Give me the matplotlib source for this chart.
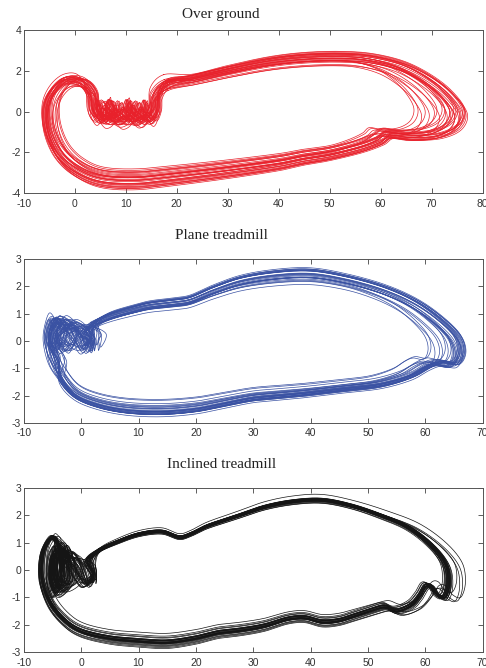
import numpy as np
import matplotlib
matplotlib.use("Agg")
import matplotlib.pyplot as plt

plt.rcParams["axes.unicode_minus"] = False

# ---------------------------------------------------------------------------
# Base loops (control points), clockwise phase portraits
# ---------------------------------------------------------------------------
OVER_GROUND = [
    (18, 1.3), (23, 1.6), (30, 2.0), (38, 2.4), (45, 2.6), (52, 2.65),
    (58, 2.55), (64, 2.2), (69, 1.6), (73, 0.85), (75.5, 0.0), (74.5, -0.7),
    (71, -1.1), (66, -1.2), (62, -1.1), (60, -1.4), (56, -1.75), (50, -2.1),
    (45, -2.3), (40, -2.55), (30, -2.9), (20, -3.2), (12, -3.4), (5, -3.3),
    (0, -2.8), (-3.5, -2.0), (-5.5, -0.9), (-5.8, 0.2), (-4.5, 1.0),
    (-2, 1.5), (1, 1.4), (3, 0.8), (3.5, 0.0), (5, -0.35), (6.5, 0.0),
    (5.5, 0.35), (5, 0.0), (7, -0.4), (9, -0.2), (9, 0.3), (8.5, 0.0),
    (10.5, -0.4), (12.5, -0.2), (12.5, 0.3), (12, 0.0), (14, -0.4),
    (15.5, 0.0), (15.8, 0.7),
]
PLANE = [
    (2, 0.6), (5, 0.9), (9, 1.15), (12, 1.3), (16, 1.4), (19, 1.5),
    (23, 1.85), (28, 2.2), (34, 2.4), (40, 2.45), (46, 2.25), (52, 1.9),
    (57, 1.45), (61, 0.9), (64.5, 0.2), (65.5, -0.4), (64.5, -0.85),
    (62, -0.8), (60, -0.95), (57, -1.3), (52, -1.6), (46, -1.75), (40, -1.9),
    (35, -2.0), (30, -2.1), (25, -2.3), (20, -2.5), (14, -2.6), (8, -2.55),
    (3, -2.35), (-1, -2.0), (-3.5, -1.4), (-5, -0.7), (-6, 0.0),
    (-5.5, 0.6), (-4.5, 0.8), (-3, 0.3), (-4, -0.3), (-5, 0.1),
    (-3.5, 0.6), (-1, 0.3), (0.5, -0.3), (1.5, 0.0), (0.5, 0.2),
]
INCLINED = [
    (3, 0.7), (6, 1.0), (10, 1.3), (14, 1.4), (17, 1.2), (19, 1.3),
    (22, 1.6), (27, 1.95), (32, 2.3), (37, 2.5), (42, 2.55), (47, 2.35),
    (52, 2.0), (57, 1.55), (61, 0.9), (63.5, 0.2), (64, -0.5), (63.3, -1.0),
    (62, -0.9), (61, -0.6), (60, -0.6), (59, -0.95), (57.5, -1.3),
    (55, -1.5), (53, -1.35), (51, -1.45), (48, -1.65), (45, -1.85),
    (42, -1.9), (39, -1.75), (36, -1.8), (32, -2.05), (28, -2.2),
    (24, -2.3), (20, -2.5), (15, -2.65), (10, -2.6), (5, -2.5), (0, -2.25),
    (-3, -1.85), (-5.5, -1.2), (-7, -0.3), (-6.8, 0.6), (-5.5, 1.15),
    (-4.5, 1.1), (-3.5, 0.5), (-3.2, -0.4), (-4.5, -0.85), (-5.5, -0.4),
    (-5.3, 0.4), (-4, 0.8), (-3.3, 0.0), (-4, -0.6), (-5, -0.2),
    (-4.5, 0.5), (-3, 0.5), (-1.5, 0.2), (0.5, -0.5), (2, -0.2), (1, 0.3),
]

# per-cycle variation: right-end stretch, left-end shift, y scale, y offset,
# knot shift, knot amplitude
EXT1 = [0.5, -1, -2, 1.5, -3, 0, -0.5, -4, -1.5, 1, -2.5, -9, -6, 0.8, -1,
        -3.5, 0.2, -2, -7.5, -0.8, 1.2, -5, -1.2, 0, -2.8, 0.6, -8.2, -1.8,
        1.0, -4.5, -0.3, -6.8]
LEXT1 = [0, 0.5, -0.5, 0.3, 1.0, -0.3, 0.8, 1.5, 0.2, -0.6, 0.6, 2.8, 2.0,
         0.1, 0.4, 1.2, -0.2, 0.7, 2.4, 0.3, -0.4, 1.6, 0.5, 0, 0.9, -0.5,
         2.6, 0.6, -0.2, 1.4, 0.2, 2.2]
YS1 = [1.04, 1.0, 0.97, 1.1, 0.95, 1.03, 1.02, 0.93, 0.99, 1.07, 0.96, 0.88,
       0.9, 1.06, 1.01, 0.94, 1.05, 0.98, 0.9, 1.0, 1.09, 0.92, 1.0, 1.04,
       0.96, 1.08, 0.89, 0.98, 1.1, 0.92, 1.02, 0.9]
YO1 = [0.1, -0.15, 0.05, -0.1, 0.2, -0.05, 0.15, -0.2, 0.0, 0.12, -0.12,
       0.18, -0.08, 0.08, -0.18, 0.22, -0.02, 0.1, -0.14, 0.16, -0.06, 0.04,
       0.2, -0.16, 0.06, -0.1, 0.14, -0.04, 0.02, 0.18, -0.2, 0.08]
KS1 = [0, 1, -1, 2, -1.5, 0.5, 1.5, -0.5, 2.5, -2, 0.8, 1.2, -0.8, 1.8, -1.2,
       0.3, 2.2, -0.3, 1.0, -1.8, 0.6, 1.4, -0.6, 0.2, 2.8, -1.4, 0.4, 1.6,
       -0.9, 2.0, -0.2, 1.1]
KA1 = [1.0, 1.3, 0.8, 1.6, 1.1, 0.9, 1.4, 1.2, 0.7, 1.8, 1.0, 1.5, 0.9, 1.2,
       1.7, 0.8, 1.1, 1.4, 1.0, 1.3, 0.9, 2.0, 1.1, 0.8, 1.5, 1.2, 1.0, 1.6,
       0.9, 1.3, 1.1, 1.9]

EXT2 = [0.5, 1.2, -0.5, 1.5, 0, -1, 0.8, -2, 1.0, -5, 0.3, -0.8, 1.4, -3,
        0.6, -0.3, 1.1, -4.5, 0.2, -1.5, 0.9, -0.2, 1.3, 0.4, -2.5, 0.7,
        -0.6, 1.6, -3.8, 0.1]
LEXT2 = [0, -0.3, 0.4, -0.5, 0.2, 0.6, -0.2, 0.8, -0.4, 1.5, 0.1, 0.5, -0.6,
         1.0, 0.0, 0.3, -0.1, 1.3, 0.2, 0.7, -0.3, 0.4, -0.5, 0.1, 0.9, -0.2,
         0.3, -0.4, 1.2, 0.0]
YS2 = [1.0, 1.03, 0.98, 1.05, 0.99, 0.96, 1.02, 0.93, 1.03, 0.86, 1.0, 0.97,
       1.05, 0.9, 1.01, 0.98, 1.04, 0.87, 1.0, 0.95, 1.02, 0.99, 1.04, 1.0,
       0.92, 1.02, 0.97, 1.05, 0.88, 1.0]
YO2 = [0.0, 0.1, -0.08, 0.05, -0.12, 0.08, -0.04, 0.12, -0.1, 0.06, 0.02,
       -0.06, 0.1, -0.02, 0.08, -0.1, 0.04, 0.12, -0.08, 0.0, 0.06, -0.12,
       0.02, 0.1, -0.04, 0.08, -0.06, 0.04, -0.1, 0.12]
KS2 = [0, 1.0, -1.0, 2.0, -1.6, 0.6, 3.0, -0.6, 4.0, 1.6, -2.0, 1.2, 5.0,
       -1.2, 2.4, 0.2, 6.0, -0.4, 1.8, -1.8, 3.6, 0.8, -0.8, 0.4, 4.4, -1.4,
       2.2, -0.2, 1.4, 2.8]
KA2 = [1.0, 0.7, 1.3, 0.8, 1.4, 0.6, 1.1, 1.0, 0.7, 1.5, 0.8, 1.2, 0.6, 1.2,
       1.0, 1.4, 0.7, 1.3, 0.9, 1.1, 0.6, 1.0, 1.4, 0.8, 1.2, 0.7, 1.1, 1.0,
       1.5, 0.9]

EXT3 = [0.2, -0.3, 0.5, 0, -0.5, 0.3, 2.5, -0.2, 0.1, -1, 0.6, 0, -0.4, 0.4,
        3.0, -0.1, 0.2, -0.6, 0.0, 1.5, -0.3, 0.3, 0.1, -0.2, 0.8, -0.7, 0.4,
        2.0, -0.1, 0.2]
LEXT3 = [0, 0.2, -0.2, 0.1, 0.3, -0.1, -0.4, 0.2, 0.0, 0.6, -0.2, 0.1, 0.3,
         -0.3, 0.8, 0.1, -0.1, 0.4, 0.0, 1.2, 0.2, -0.2, 0.1, 0.0, -0.3, 0.5,
         0.1, -0.2, 0.3, 0.0]
YS3 = [1.0, 0.99, 1.01, 1.0, 0.98, 1.02, 1.04, 0.99, 1.0, 0.95, 1.01, 1.0,
       0.98, 1.02, 1.06, 0.99, 1.0, 0.97, 1.01, 0.92, 0.99, 1.01, 1.0, 0.98,
       1.03, 0.96, 1.0, 1.05, 0.99, 1.01]
YO3 = [0.0, 0.05, -0.04, 0.06, -0.06, 0.02, -0.08, 0.07, -0.02, 0.1, 0.01,
       -0.05, 0.04, -0.07, 0.06, 0.03, -0.04, 0.08, 0.0, 0.12, -0.03, 0.05,
       0.06, -0.05, -0.07, 0.08, 0.02, -0.09, 0.05, 0.0]
KS3 = [0, 0.8, -0.8, 1.5, -1.2, 0.4, 2.2, -0.4, 3.0, 1.2, -1.5, 0.9, 3.6,
       -0.9, 1.8, 0.2, 4.2, -0.3, 1.3, -1.3, 2.6, 0.6, -0.6, 0.3, 1.6, -1.0,
       0.7, -0.1, 1.0, 2.0]
KA3 = [1.0, 0.7, 1.2, 0.8, 1.3, 0.6, 1.0, 1.15, 0.75, 1.25, 0.85, 1.05, 0.65,
       1.2, 0.95, 1.3, 0.8, 1.1, 0.9, 1.0, 0.7, 1.05, 1.25, 0.85, 1.15, 0.75,
       1.0, 0.95, 1.3, 0.9]


def closed_spline(pts, n=24):
    """Periodic Catmull-Rom through the control points."""
    P = np.asarray(pts, dtype=float)
    N = len(P)
    t = np.linspace(0, 1, n, endpoint=False)[:, None]
    out = []
    for i in range(N):
        p0, p1, p2, p3 = P[i - 1], P[i], P[(i + 1) % N], P[(i + 2) % N]
        seg = 0.5 * ((2 * p1) + (-p0 + p2) * t
                     + (2 * p0 - 5 * p1 + 4 * p2 - p3) * t ** 2
                     + (-p0 + 3 * p1 - 3 * p2 + p3) * t ** 3)
        out.append(seg)
    out = np.vstack(out)
    return np.vstack([out, out[:1]])


def cycle_points(base, cyc, shape):
    ext, lext, ys, yo, ks, ka = cyc
    xa, xb, kc, kwid, ymask = shape
    P = np.asarray(base, dtype=float)
    x, y = P[:, 0].copy(), P[:, 1].copy()
    xl, xr = x.min(), x.max()
    wr = np.clip((x - xa) / (xr - xa), 0, 1)
    wl = np.clip((xb - x) / (xb - xl), 0, 1)
    kw = np.exp(-((x - kc) / kwid) ** 2) * (np.abs(y) < ymask)
    x = x + ext * wr + lext * wl + ks * kw
    y = y * (1 + (ka - 1) * kw)
    y = y * ys + yo
    return np.column_stack([x, y])


PANELS = [
    ("Over ground", OVER_GROUND, (EXT1, LEXT1, YS1, YO1, KS1, KA1),
     "#e8212b", (-10, 80), (-4, 4), np.arange(-4, 5, 2),
     (50, 8, 10, 7, 1.6), 0.711, 0.244, 0.978),
    ("Plane treadmill", PLANE, (EXT2, LEXT2, YS2, YO2, KS2, KA2),
     "#3a52a3", (-10, 70), (-3, 3), np.arange(-3, 4, 1),
     (45, 5, -2, 3, 1.0), 0.367, 0.2455, 0.647),
    ("Inclined treadmill", INCLINED, (EXT3, LEXT3, YS3, YO3, KS3, KA3),
     "#151515", (-10, 70), (-3, 3), np.arange(-3, 4, 1),
     (45, 5, -2, 3, 1.0), 0.024, 0.2455, 0.304),
]


def main():
    fig = plt.figure(figsize=(4.86, 6.68), dpi=100)
    for (title, base, params, color, xlim, ylim, yticks,
         shape, bottom, height, title_y) in PANELS:
        ax = fig.add_axes([0.049, bottom, 0.944, height])
        for cyc in zip(*params):
            curve = closed_spline(cycle_points(base, cyc, shape))
            ax.plot(curve[:, 0], curve[:, 1], color=color, lw=0.5)
        ax.set_xlim(*xlim)
        ax.set_ylim(*ylim)
        ax.set_xticks(np.arange(xlim[0], xlim[1] + 1, 10))
        ax.set_yticks(yticks)
        ax.tick_params(direction="in", top=True, right=True, length=3.5,
                       width=0.6, labelsize=7.5, labelcolor="#333333",
                       color="#444444")
        ax.tick_params(axis="x", pad=4)
        ax.tick_params(axis="y", pad=2)
        for lab in ax.get_xticklabels() + ax.get_yticklabels():
            lab.set_family("Liberation Sans")
        for sp in ax.spines.values():
            sp.set_linewidth(0.7)
            sp.set_color("#555555")
        fig.text(0.455, title_y, title, ha="center", va="center",
                 fontsize=11, family="Liberation Serif", color="#222222")
    fig.savefig("out.png", dpi=100)
    plt.close(fig)


if __name__ == "__main__":
    main()
